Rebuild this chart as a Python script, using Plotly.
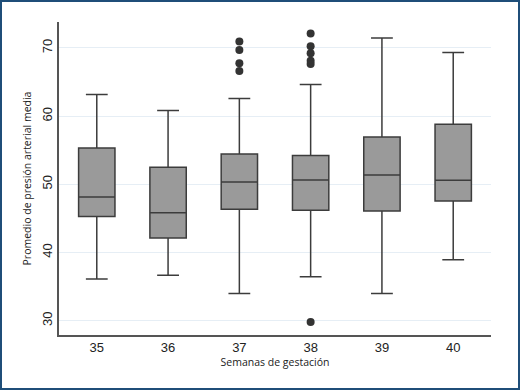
import plotly.graph_objects as go

weeks = ["35", "36", "37", "38", "39", "40"]
lower_whisker = [36.1, 36.65, 34.0, 36.45, 34.0, 38.95]
q1 = [45.26, 42.13, 46.33, 46.19, 46.09, 47.56]
median = [48.14, 45.84, 50.34, 50.64, 51.37, 50.59]
q3 = [55.33, 52.5, 54.45, 54.21, 56.94, 58.8]
upper_whisker = [63.15, 60.81, 62.57, 64.62, 71.47, 69.32]

outlier_week = ["37", "37", "37", "37", "38", "38", "38", "38", "38", "38"]
outlier_value = [70.93, 69.7, 67.75, 66.63, 72.1, 70.24, 69.2, 68.1, 67.65, 29.8]

fig = go.Figure()
fig.add_trace(go.Box(
    x=weeks, q1=q1, median=median, q3=q3,
    lowerfence=lower_whisker, upperfence=upper_whisker,
    fillcolor="#9a9a9a", line=dict(color="#3c3c3c", width=1.5),
    width=0.51, whiskerwidth=0.6, boxpoints=False, showlegend=False,
))
fig.add_trace(go.Scatter(
    x=outlier_week, y=outlier_value, mode="markers",
    marker=dict(color="#333333", size=8), showlegend=False,
))

fig.update_layout(
    width=520, height=390,
    margin=dict(l=59, r=29, t=22, b=55),
    paper_bgcolor="white", plot_bgcolor="white",
    font=dict(family="Liberation Sans, Arial", color="#222"),
    xaxis=dict(
        type="category", range=[-0.53, 5.53],
        showline=True, linecolor="#555", linewidth=1.5,
        showgrid=False, ticks="", tickfont=dict(size=13),
        title=dict(text="Semanas de gestación", font=dict(size=10.5, family="Open Sans"), standoff=2),
    ),
    yaxis=dict(
        range=[27.9, 73.8], tickvals=[30, 40, 50, 60, 70], tickangle=-90,
        showline=True, linecolor="#555", linewidth=1.5,
        showgrid=True, gridcolor="#e6eef5", gridwidth=1, zeroline=False,
        ticks="", tickfont=dict(size=13),
        title=dict(text="Promedio de presión arterial media", font=dict(size=10.5, family="Open Sans"), standoff=6),
    ),
    shapes=[dict(type="rect", xref="paper", yref="paper",
                 x0=(1 - 59) / 432, x1=(519 - 59) / 432,
                 y0=(335 - 389) / 313, y1=(335 - 1) / 313,
                 line=dict(color="#1f4e79", width=2))],
)

fig.write_html("out.html", config={"displayModeBar": False},
               post_script="document.body.style.margin='0';document.body.style.overflow='hidden';")
